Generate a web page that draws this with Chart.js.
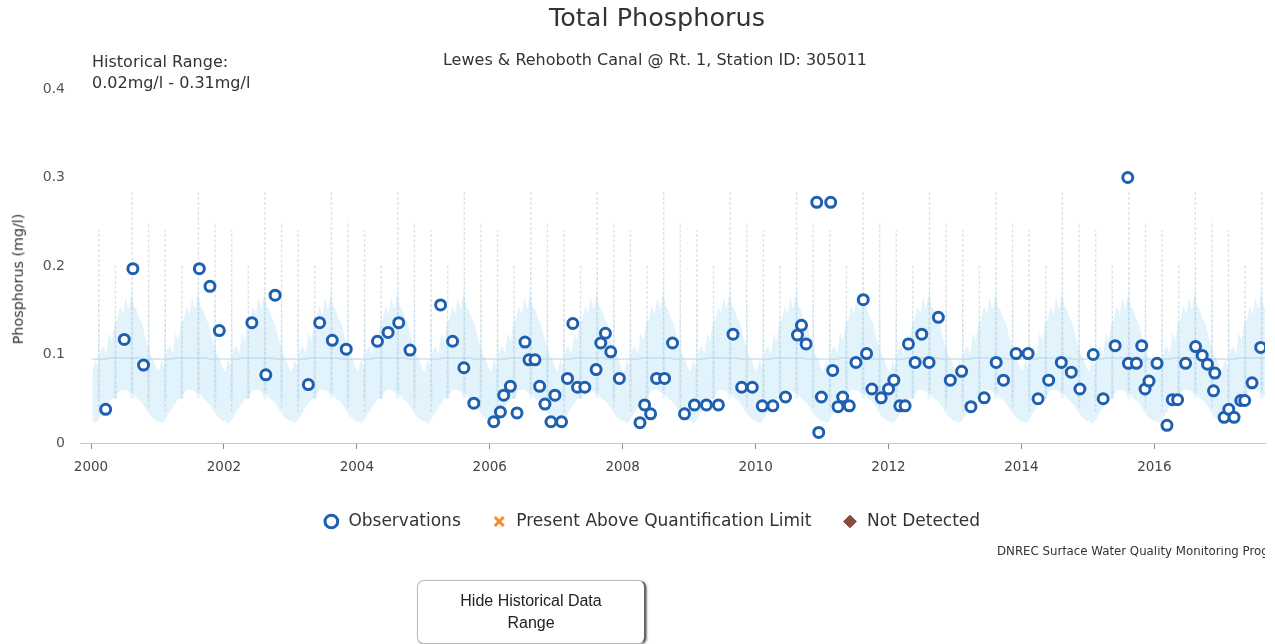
<!DOCTYPE html>
<html>
<head>
<meta charset="utf-8">
<script src="https://cdn.jsdelivr.net/npm/chart.js@4.4.1/dist/chart.umd.min.js"></script>
<style>
  body { margin: 0; background: #fff; }
  #wrap { position: relative; width: 1275px; height: 644px; overflow: hidden; font-family: "DejaVu Sans", sans-serif; color: #333; }
  #wrap canvas { position: absolute; left: 0; top: 0; }
  .txt { position: absolute; white-space: nowrap; line-height: 1; }
  #title { left: 657px; top: 5px; font-size: 25.5px; transform: translateX(-50%); color: #333; }
  #sub { left: 655px; top: 52px; font-size: 16px; transform: translateX(-50%); color: #333; }
  #range { left: 92px; top: 51px; font-size: 16px; line-height: 21px; color: #333; }
  #ytitle { left: 18px; top: 279px; font-size: 14.3px; color: #333; transform: translate(-50%, -50%) rotate(-90deg); }
  #credit { left: 997px; top: 546px; width: 268px; overflow: hidden; font-size: 11.8px; color: #333; }
  #histBtn {
    position: absolute; left: 417px; top: 580px; width: 229px; height: 64px;
    background: #fff; border: 1px solid #bbb; border-right: 2px solid #666; border-radius: 7px;
    box-shadow: 1px 1px 2px #888; font-family: "Liberation Sans", Arial, sans-serif;
    font-size: 16px; line-height: 22px; color: #222; padding: 0;
  }
</style>
</head>
<body>
<div id="wrap">
  <canvas id="chart" width="1275" height="644"></canvas>
  <div class="txt" id="title">Total Phosphorus</div>
  <div class="txt" id="sub">Lewes &amp; Rehoboth Canal @ Rt. 1, Station ID: 305011</div>
  <div class="txt" id="range">Historical Range:<br>0.02mg/l - 0.31mg/l</div>
  <div class="txt" id="ytitle">Phosphorus (mg/l)</div>
  <div class="txt" id="credit">DNREC Surface Water Quality Monitoring Program</div>
  <button id="histBtn">Hide Historical Data<br>Range</button>
</div>
<script>
// Observations (decimal year, mg/l)
const obsYears = [
  2000.22, 2000.50, 2000.63, 2000.79, 2001.63, 2001.79, 2001.93, 2002.42, 2002.63, 2002.77,
  2003.27, 2003.44, 2003.63, 2003.84, 2004.31, 2004.47, 2004.63, 2004.80, 2005.26, 2005.44,
  2005.61, 2005.76, 2006.06, 2006.16, 2006.21, 2006.31, 2006.41, 2006.53, 2006.59, 2006.68,
  2006.75, 2006.83, 2006.92, 2006.98, 2007.08, 2007.17, 2007.25, 2007.32, 2007.43, 2007.60,
  2007.67, 2007.74, 2007.82, 2007.95, 2008.26, 2008.33, 2008.42, 2008.51, 2008.63, 2008.75,
  2008.93, 2009.08, 2009.26, 2009.44, 2009.66, 2009.79, 2009.95, 2010.10, 2010.26, 2010.45,
  2010.63, 2010.69, 2010.76, 2010.92, 2010.95, 2010.99, 2011.13, 2011.16, 2011.24, 2011.31,
  2011.41, 2011.51, 2011.62, 2011.67, 2011.75, 2011.89, 2012.00, 2012.08, 2012.17, 2012.25,
  2012.30, 2012.40, 2012.50, 2012.61, 2012.75, 2012.93, 2013.10, 2013.24, 2013.44, 2013.62,
  2013.73, 2013.92, 2014.10, 2014.25, 2014.41, 2014.60, 2014.75, 2014.88, 2015.08, 2015.23,
  2015.41, 2015.60, 2015.61, 2015.73, 2015.81, 2015.86, 2015.92, 2016.04, 2016.19, 2016.27,
  2016.35, 2016.47, 2016.62, 2016.72, 2016.80, 2016.89, 2016.91, 2017.05, 2017.12, 2017.20,
  2017.30, 2017.36, 2017.47, 2017.60
];
const obsValues = [
  0.038, 0.117, 0.197, 0.088, 0.197, 0.177, 0.127, 0.136, 0.077, 0.167,
  0.066, 0.136, 0.116, 0.106, 0.115, 0.125, 0.136, 0.105, 0.156, 0.115,
  0.085, 0.045, 0.024, 0.035, 0.054, 0.064, 0.034, 0.114, 0.094, 0.094,
  0.064, 0.044, 0.024, 0.054, 0.024, 0.073, 0.135, 0.063, 0.063, 0.083,
  0.113, 0.124, 0.103, 0.073, 0.023, 0.043, 0.033, 0.073, 0.073, 0.113,
  0.033, 0.043, 0.043, 0.043, 0.123, 0.063, 0.063, 0.042, 0.042, 0.052,
  0.122, 0.133, 0.112, 0.272, 0.012, 0.052, 0.272, 0.082, 0.041, 0.052,
  0.042, 0.091, 0.162, 0.101, 0.061, 0.051, 0.061, 0.071, 0.042, 0.042,
  0.112, 0.091, 0.123, 0.091, 0.142, 0.071, 0.081, 0.041, 0.051, 0.091,
  0.071, 0.101, 0.101, 0.050, 0.071, 0.091, 0.080, 0.061, 0.100, 0.050,
  0.110, 0.300, 0.090, 0.090, 0.110, 0.061, 0.070, 0.090, 0.020, 0.049,
  0.049, 0.090, 0.109, 0.099, 0.089, 0.059, 0.079, 0.029, 0.038, 0.029,
  0.048, 0.048, 0.068, 0.108
];

// Historical range: typical annual profile (half-month steps), repeated each year
const bandYears = [2000, 2001, 2002, 2003, 2004, 2005, 2006, 2007, 2008, 2009,
  2010, 2011, 2012, 2013, 2014, 2015, 2016, 2017];
const bandMonths = [0.25, 0.75, 1.25, 1.75, 2.25, 2.75, 3.25, 3.75, 4.25, 4.75, 5.25, 5.75,
  6.25, 6.75, 7.25, 7.75, 8.25, 8.75, 9.25, 9.75, 10.25, 10.75, 11.25, 11.75];
const bandLow = [0.025, 0.022, 0.025, 0.030, 0.035, 0.040, 0.045, 0.050, 0.050, 0.055, 0.060, 0.060,
  0.060, 0.058, 0.055, 0.055, 0.050, 0.048, 0.045, 0.040, 0.035, 0.030, 0.028, 0.025];
const bandHigh = [0.080, 0.095, 0.085, 0.105, 0.110, 0.100, 0.125, 0.115, 0.135, 0.140, 0.155, 0.145,
  0.165, 0.150, 0.170, 0.155, 0.150, 0.140, 0.135, 0.120, 0.110, 0.100, 0.095, 0.085];
const bandMid = [0.095, 0.095, 0.095, 0.095, 0.095, 0.095, 0.096, 0.096, 0.096, 0.096, 0.096, 0.096,
  0.096, 0.096, 0.096, 0.096, 0.096, 0.096, 0.095, 0.095, 0.095, 0.095, 0.095, 0.095];
// quarterly spikes of the daily maxima
const spikeMonths = [1.4, 4.4, 7.4, 10.4];
const spikeBase = [0.035, 0.05, 0.06, 0.04];
const spikeTops = [0.24, 0.20, 0.285, 0.25];
const spikeGlow = [0.18, 0.16, 0.21, 0.19];
const spikeHalfWidth = [0.35, 0.35, 0.35, 0.35]; // months

const lowPts = [], highPts = [], midPts = [], spikePts = [], glowPts = [];
bandYears.forEach(yr => {
  bandMonths.forEach((m, i) => {
    lowPts.push({ x: yr + m / 12, y: bandLow[i] });
    highPts.push({ x: yr + m / 12, y: bandHigh[i] });
    midPts.push({ x: yr + m / 12, y: bandMid[i] });
  });
  spikeMonths.forEach((m, i) => {
    const x = yr + m / 12;
    const w = spikeHalfWidth[i] / 12;
    spikePts.push({ x, y: spikeBase[i] }, { x, y: spikeTops[i] }, { x, y: null });
    glowPts.push({ x: x - w, y: spikeBase[i] }, { x, y: spikeGlow[i] }, { x: x + w, y: spikeBase[i] }, { x: x + w, y: null });
  });
});

const xTicks = [2000, 2002, 2004, 2006, 2008, 2010, 2012, 2014, 2016];

new Chart(document.getElementById('chart'), {
  type: 'scatter',
  data: {
    datasets: [
      {
        label: 'Observations',
        data: obsYears.map((x, i) => ({ x, y: obsValues[i] })),
        pointStyle: 'circle',
        pointRadius: 5,
        borderWidth: 3,
        borderColor: '#1f5fb0',
        backgroundColor: '#ffffff'
      },
      {
        label: 'Present Above Quantification Limit',
        data: [],
        pointStyle: 'crossRot',
        borderWidth: 3,
        borderColor: '#f28c28',
        backgroundColor: '#f28c28'
      },
      {
        label: 'Not Detected',
        data: [],
        pointStyle: 'rectRot',
        borderWidth: 1,
        borderColor: '#8a4b3e',
        backgroundColor: '#8a4b3e'
      },
      {
        type: 'line',
        label: 'spikes',
        data: spikePts,
        borderColor: 'rgba(175,192,205,0.42)',
        borderWidth: 1.5,
        borderDash: [3, 2],
        pointRadius: 0,
        spanGaps: false
      },
      {
        type: 'line',
        label: 'glow',
        data: glowPts,
        borderWidth: 0,
        borderColor: 'rgba(0,0,0,0)',
        backgroundColor: 'rgba(190,226,246,0.35)',
        fill: { value: 0.05 },
        pointRadius: 0,
        spanGaps: false
      },
      {
        type: 'line',
        label: 'mid',
        data: midPts,
        borderColor: 'rgba(180,210,230,0.5)',
        borderWidth: 2,
        pointRadius: 0
      },
      {
        type: 'line',
        label: 'high',
        data: highPts,
        borderWidth: 0,
        borderColor: 'rgba(0,0,0,0)',
        backgroundColor: 'rgba(185,224,246,0.4)',
        fill: '+1',
        pointRadius: 0,
        tension: 0
      },
      {
        type: 'line',
        label: 'low',
        data: lowPts,
        borderWidth: 0,
        borderColor: 'rgba(0,0,0,0)',
        pointRadius: 0
      }
    ]
  },
  options: {
    responsive: false,
    animation: false,
    layout: { padding: { left: 38, right: 10, top: 89, bottom: 104 } },
    plugins: {
      tooltip: { enabled: false },
      legend: {
        position: 'bottom',
        labels: {
          usePointStyle: true,
          boxHeight: 9,
          padding: 30,
          color: '#333',
          font: { family: 'DejaVu Sans', size: 17 },
          filter: item => item.datasetIndex < 3
        }
      }
    },
    scales: {
      x: {
        type: 'linear',
        min: 1999.834,
        max: 2017.665,
        afterFit: scale => { scale.height = 40; },
        afterBuildTicks: scale => { scale.ticks = xTicks.map(v => ({ value: v })); },
        grid: { drawOnChartArea: false, drawTicks: true, tickLength: 6, color: '#888' },
        border: { color: '#c8c8c8' },
        ticks: {
          padding: 10,
          color: '#444',
          font: { family: 'DejaVu Sans', size: 13.5 },
          callback: v => String(v)
        }
      },
      y: {
        min: 0,
        max: 0.4,
        afterFit: scale => { scale.width = 42; },
        grid: { display: false, drawTicks: false },
        border: { display: false },
        ticks: {
          stepSize: 0.1,
          padding: 15,
          color: '#555',
          font: { family: 'DejaVu Sans', size: 14 }
        }
      }
    }
  }
});
</script>
</body>
</html>
